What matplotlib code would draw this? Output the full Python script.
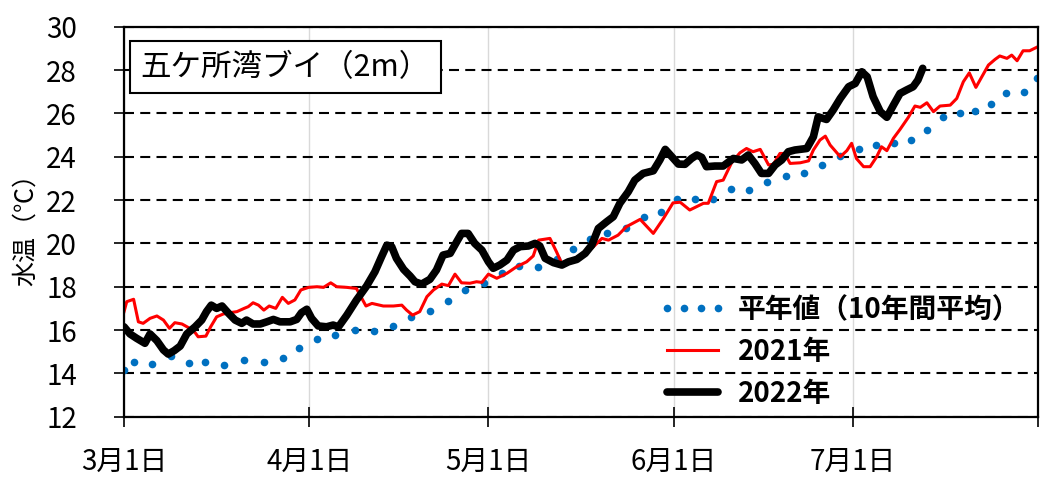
import matplotlib
matplotlib.use("Agg")
import matplotlib.pyplot as plt

plt.rcParams['font.family'] = ['Noto Sans CJK JP', 'DejaVu Sans']

# Data (days since Mar 1)
normal_day = [0.0, 1.7, 4.7, 7.8, 10.8, 13.6, 16.8, 20.1, 23.4, 26.6, 29.3, 32.3, 35.3, 38.6,
              41.9, 45.1, 48.0, 51.2, 54.2, 57.0, 60.2, 63.2, 66.2, 69.3, 72.4, 75.1, 78.0,
              80.9, 84.0, 87.1, 89.9, 92.5, 95.5, 98.6, 101.6, 104.6, 107.7, 110.8, 113.9,
              116.9, 119.8, 123.0, 125.9, 128.9, 131.8, 134.5, 137.1, 140.0, 142.4, 145.1,
              147.6, 150.7, 152.9]
normal_val = [14.15, 14.54, 14.42, 14.8, 14.48, 14.51, 14.39, 14.62, 14.54, 14.69, 15.18, 15.59,
              15.77, 16.02, 15.95, 16.19, 16.6, 16.88, 17.34, 17.85, 18.16, 18.65, 18.95, 18.92,
              19.26, 19.72, 20.19, 20.49, 20.69, 21.2, 21.46, 22.03, 22.05, 22.03, 22.49, 22.46,
              22.85, 23.12, 23.23, 23.6, 24.03, 24.34, 24.54, 24.62, 24.77, 25.23, 25.82, 26.0,
              26.11, 26.42, 26.95, 26.98, 27.62]

y2021_day = [0, 0.45, 1.6, 2.4, 3.2, 4.35, 5.5, 6.6, 7.6, 8.5, 9.7, 10.8, 11.9, 12.4, 13.7, 14.5,
             15.5, 16.6, 17.7, 18.9, 20.1, 20.8, 21.6, 22.5, 23.4, 24.3, 25.4, 26.5, 27.5, 28.6,
             29.6, 30.9, 32.3, 33.4, 34.6, 35.6, 37.3, 38.9, 40.5, 41.5, 43.4, 45.1, 46.5, 47.3,
             48.3, 49.5, 50.7, 51.8, 53.2, 54.3, 55.4, 56.5, 57.9, 59.0, 59.9, 61.0, 62.4, 64.1,
             65.7, 67.4, 68.5, 69.4, 71.3, 72.4, 73.4, 74.7, 76.6, 78.3, 80.0, 81.1, 82.7, 84.1,
             86.4, 88.6, 90.3, 91.9, 93.1, 94.7, 97.0, 97.8, 99.2, 100.3, 101.7, 103.1, 104.2,
             105.3, 106.5, 107.9, 108.7, 109.8, 110.6, 111.5, 113.2, 114.6, 115.4, 116.5, 117.4,
             118.2, 119.9, 121.0, 121.8, 122.6, 123.8, 124.9, 126.0, 126.8, 127.7, 128.8, 129.9,
             131.3, 132.4, 133.3, 134.4, 135.5, 136.6, 138.3, 139.4, 140.5, 141.5, 142.6, 143.6,
             144.7, 145.8, 146.6, 147.8, 148.6, 149.5, 150.5, 151.6, 153.0]
y2021_val = [16.85, 17.31, 17.42, 16.38, 16.31, 16.54, 16.65, 16.46, 16.08, 16.34, 16.28, 16.11,
             15.88, 15.69, 15.72, 16.15, 16.61, 16.74, 16.8, 16.85, 17.0, 17.08, 17.26, 17.15,
             16.92, 17.11, 17.0, 17.51, 17.23, 17.39, 17.85, 17.97, 18.0, 17.97, 18.18, 18.0,
             17.97, 17.92, 17.11, 17.23, 17.11, 17.11, 17.15, 16.92, 16.69, 16.85, 17.54, 17.85,
             18.12, 18.05, 18.58, 18.18, 18.16, 18.23, 18.2, 18.58, 18.39, 18.62, 18.92, 19.15,
             19.42, 20.15, 20.23, 19.61, 19.0, 19.23, 19.46, 19.77, 20.23, 20.15, 20.38, 20.77,
             21.11, 20.46, 21.15, 21.87, 21.9, 21.54, 21.85, 21.85, 22.85, 22.92, 23.72, 24.18,
             24.38, 24.23, 24.34, 23.62, 23.65, 24.15, 24.15, 23.69, 23.72, 23.81, 24.31, 24.77,
             24.95, 24.54, 24.0, 24.28, 24.62, 23.92, 23.54, 23.54, 24.0, 24.46, 24.28, 24.85,
             25.26, 25.82, 26.34, 26.28, 26.49, 26.08, 26.34, 26.38, 26.69, 27.46, 27.87, 27.2,
             27.69, 28.23, 28.49, 28.65, 28.54, 28.69, 28.43, 28.89, 28.89, 29.08]

y2022_day = [0, 1.0, 2.1, 3.5, 4.35, 5.5, 6.6, 7.4, 8.4, 9.4, 10.5, 11.9, 13.0, 13.8, 14.6, 15.5,
             16.4, 17.5, 18.6, 19.7, 20.5, 21.6, 22.8, 23.9, 25.0, 26.1, 27.8, 28.9, 29.7, 30.6,
             31.4, 32.5, 33.9, 35.0, 35.9, 37.3, 38.9, 40.6, 42.0, 43.1, 44.0, 44.8, 45.6, 46.8,
             47.9, 48.7, 49.8, 51.2, 52.3, 53.4, 54.6, 55.7, 56.5, 57.6, 58.7, 59.9, 61.0, 61.8,
             62.9, 64.1, 65.2, 66.3, 67.7, 68.8, 69.6, 70.5, 71.9, 73.3, 74.4, 75.8, 77.2, 78.3,
             79.4, 80.8, 81.9, 83.0, 84.4, 85.5, 86.9, 88.6, 89.7, 90.6, 91.7, 92.8, 93.9, 95.0,
             95.9, 96.7, 97.5, 98.9, 100.3, 102.0, 103.4, 104.5, 105.6, 106.7, 107.9, 109.0,
             110.1, 111.2, 112.3, 114.3, 115.4, 116.2, 117.6, 118.7, 119.9, 121.3, 122.4, 123.5,
             124.4, 125.4, 126.6, 127.7, 128.8, 129.9, 131.0, 132.1, 132.9, 133.7]
y2022_val = [16.15, 15.82, 15.62, 15.39, 15.82, 15.51, 15.08, 14.89, 15.05, 15.26, 15.82, 16.15,
             16.46, 16.85, 17.15, 17.0, 17.11, 16.77, 16.46, 16.31, 16.46, 16.28, 16.28, 16.38,
             16.49, 16.38, 16.38, 16.49, 16.8, 16.96, 16.54, 16.19, 16.15, 16.23, 16.15, 16.69,
             17.38, 18.03, 18.69, 19.38, 19.92, 19.85, 19.31, 18.8, 18.49, 18.23, 18.12, 18.34,
             18.77, 19.46, 19.54, 20.08, 20.46, 20.46, 20.0, 19.69, 19.15, 18.85, 19.0, 19.23,
             19.69, 19.85, 19.88, 20.0, 19.88, 19.31, 19.11, 19.0, 19.15, 19.26, 19.54, 19.92,
             20.69, 21.0, 21.23, 21.85, 22.38, 22.92, 23.23, 23.35, 23.85, 24.34, 24.0, 23.66,
             23.65, 23.92, 24.08, 23.97, 23.54, 23.57, 23.57, 23.92, 23.85, 24.08, 23.69, 23.23,
             23.23, 23.62, 23.85, 24.23, 24.31, 24.38, 24.92, 25.84, 25.72, 26.15, 26.69, 27.23,
             27.38, 27.92, 27.69, 26.77, 26.08, 25.82, 26.38, 26.92, 27.08, 27.23, 27.54, 28.08]

month_ticks = [0, 31, 61, 92, 122, 153]
month_labels = ['3月1日', '4月1日', '5月1日', '6月1日', '7月1日', '']

# Plot
fig = plt.figure(figsize=(10.45, 4.78), dpi=100)
ax = fig.add_axes([0.1187, 0.1282, 0.8746, 0.8159])

ax.plot(normal_day, normal_val, linestyle='none', marker='o', markersize=5.5,
        color='#0070C0', markeredgewidth=0, label='平年値（10年間平均）')
ax.plot(y2021_day, y2021_val, color='#FF0000', lw=2.2, label='2021年')
ax.plot(y2022_day, y2022_val, color='black', lw=5.5, solid_joinstyle='round',
        solid_capstyle='round', label='2022年')

ax.set_xlim(0, 153)
ax.set_ylim(12, 30)
ax.set_yticks(range(12, 31, 2))
ax.set_xticks(month_ticks)
ax.set_xticklabels(month_labels)

ax.set_axisbelow(True)
ax.yaxis.grid(True, color='black', lw=1.5, linestyle=(0, (4.8, 3)))
ax.xaxis.grid(True, color='#d9d9d9', lw=1, linestyle='-')

for s in ax.spines.values():
    s.set_linewidth(1.6)
ax.tick_params(axis='both', direction='inout', length=14, width=1.2, labelsize=20)
ax.tick_params(axis='y', pad=27)
ax.tick_params(axis='x', pad=15)

fig.text(26 / 1045, 1 - 224 / 478, '水温（℃）', fontsize=18, rotation=90,
         ha='center', va='center')

ax.text(0.1765, 0.896, '五ケ所湾ブイ（2m）', transform=ax.transAxes, fontsize=22,
        ha='center', va='center',
        bbox=dict(boxstyle='square,pad=0.35', fc='white', ec='black', lw=1.5))

leg = ax.legend(loc='upper left', bbox_to_anchor=(0.585, 0.31), frameon=False, numpoints=4,
                handlelength=2.45, handletextpad=0.4, labelspacing=0.5, borderpad=0,
                borderaxespad=0, prop={'size': 20, 'weight': 'bold'})

plt.savefig('out.png', dpi=100)
